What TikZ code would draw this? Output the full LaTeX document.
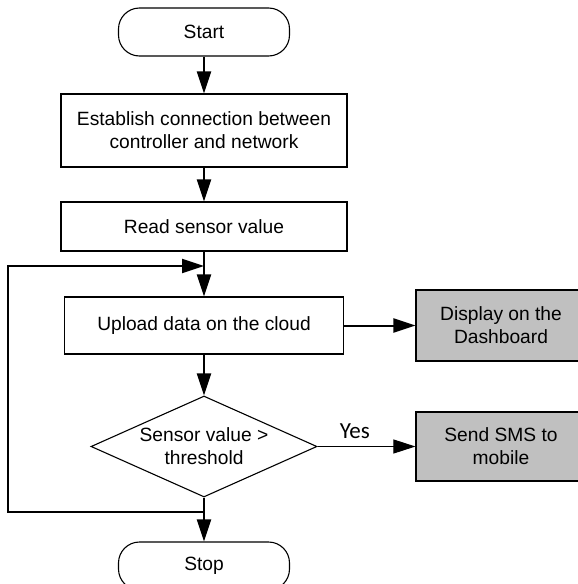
\documentclass[tikz,border=0pt]{standalone}
\usepackage{fontspec}
\setmainfont{Liberation Sans}
\newfontfamily\yesfont{Carlito}
\usetikzlibrary{arrows.meta,shapes.geometric}
\definecolor{boxgray}{RGB}{192,192,192}
\tikzset{
  base/.style={draw=black, line width=1.1pt, align=center, inner sep=0pt,
    font=\fontsize{19.2}{23}\selectfont},
  term/.style={base, rounded corners=21pt, minimum width=171pt, minimum height=48pt},
  proc/.style={base, minimum width=286pt},
  grayproc/.style={base, fill=boxgray, minimum width=170pt},
  decis/.style={base, diamond, shape aspect=2.24, minimum width=226pt, minimum height=101pt},
  flow/.style={line width=2pt, -{Triangle[length=22pt,width=14pt]}},
  thinflow/.style={line width=1pt, -{Triangle[length=22pt,width=14pt]}},
}
\begin{document}
\begin{tikzpicture}[x=1pt,y=-1pt]
\useasboundingbox (0,0) rectangle (578,584);
\clip (0,0) rectangle (578,584);
\node[term] (start) at (204,32) {Start};
\node[proc, minimum height=73pt] (est) at (204,130.5) {Establish connection between\\controller and network};
\node[proc, minimum height=49pt] (read) at (204,226.5) {Read sensor value};
\node[proc, minimum width=279pt, minimum height=57pt] (up) at (204,325.5) {Upload data on the cloud};
\node[grayproc, minimum height=71pt] (disp) at (501,325.5) {Display on the\\Dashboard};
\node[decis] (dia) at (204,446.5) {Sensor value >\\threshold};
\node[grayproc, minimum height=69pt] (sms) at (501,446.5) {Send SMS to\\mobile};
\node[term] (stop) at (204,566) {Stop};
\coordinate (j1) at (204,266);
\coordinate (j2) at (204,512);
\coordinate (l1) at (8,512);
\coordinate (l2) at (8,266);
\draw[flow] (start.south) -- (est.north);
\draw[flow] (est.south) -- (read.north);
\draw[line width=2pt] (read.south) -- (j1);
\draw[flow] (j1) -- (up.north);
\draw[flow] (up.east) -- (disp.west);
\draw[flow] (up.south) -- (dia.north);
\draw[thinflow] (dia.east) -- node[above=4pt, pos=0.38, font=\yesfont\fontsize{23}{27}\selectfont] (yes) {Yes} (sms.west);
\draw[line width=2pt] (dia.south) -- (j2);
\draw[flow] (j2) -- (stop.north);
\draw[flow, line join=miter] (j2) -- (l1) -- (l2) -- (j1);
\end{tikzpicture}
\end{document}
